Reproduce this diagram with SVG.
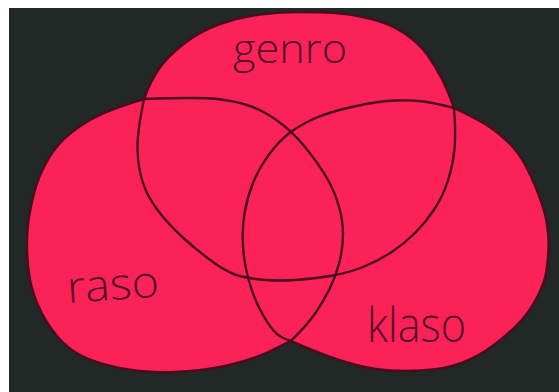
<svg xmlns="http://www.w3.org/2000/svg" xmlns:xlink="http://www.w3.org/1999/xlink" width="559" height="392" viewBox="0 0 559 392">
<style>
.paper{fill:#fa2257;stroke:none}
.ink{fill:none;stroke:#4a0c1e;stroke-width:2.4;stroke-linejoin:round;stroke-linecap:round}
.lbl{font-family:"Open Sans","Liberation Sans",sans-serif;font-weight:300;fill:#55102a}
</style>
<defs>
<path id="pT" d="M144,99 Q150,82 158.5,69.5 Q167,57 183.5,44 Q200,31 220,24 Q240,17 260,14.5 Q280,12 300,12 Q320,12 335,13 Q350,14 369.5,18.5 Q389,23 404,33 Q419,43 427.5,55 Q436,67 442.5,80 Q449,93 454,108 Q456,133 454.5,149 Q453,165 448,180.5 Q443,196 434.5,209 Q426,222 415,233 Q404,244 391,252.5 Q378,261 363,267 Q348,273 330,276 Q312,279 295.5,280 Q279,281 266,280 Q253,279 241.5,276.5 Q230,274 215,263.5 Q200,253 184,238.5 Q168,224 157.5,210 Q147,196 142.5,181.5 Q138,167 137.5,150 Q137,133 144,99 Z"/>
<path id="pL" d="M144,99 Q200,97 217.5,99 Q235,101 248.5,105.5 Q262,110 277,120.5 Q292,131 305,147 Q318,163 326,176.5 Q334,190 338.5,205 Q343,220 343,234 Q343,248 339.5,262 Q336,276 329.5,289 Q323,302 315.5,313 Q308,324 291,341 Q280,346 273.5,349.5 Q267,353 253.5,358 Q240,363 220,367 Q200,371 175,372 Q150,373 128.5,369.5 Q107,366 90,359.5 Q73,353 61.5,341 Q50,329 41.5,312.5 Q33,296 30,279.5 Q27,263 27,246 Q27,229 29,217 Q31,205 34.5,191.5 Q38,178 45.5,164 Q53,150 63,140 Q73,130 90,120 Q107,110 144,99 Z"/>
<path id="pR" d="M454,108 Q479,120 489,126.5 Q499,133 509,143 Q519,153 525.5,165.5 Q532,178 536,188 Q540,198 543,207 Q546,216 547.5,227.5 Q549,239 548.5,249.5 Q548,260 546.5,271 Q545,282 537,297.5 Q529,313 517.5,324.5 Q506,336 492.5,346 Q479,356 462.5,362.5 Q446,369 421,370.5 Q396,372 376,369 Q356,366 337.5,359.5 Q319,353 291,341 Q280,338 273.5,330.5 Q267,323 260,309.5 Q253,296 248.5,279.5 Q244,263 243,246 Q242,229 244.5,213.5 Q247,198 253,183 Q259,168 269,154.5 Q279,141 289.5,133 Q300,125 314.5,118.5 Q329,112 354,106.5 Q379,101 395.5,100.5 Q412,100 423.5,101.5 Q435,103 454,108 Z"/>
</defs>
<rect x="0" y="0" width="559" height="392" fill="#ffffff"/>
<rect x="9" y="8" width="550" height="384" fill="#222826"/>
<g id="genro">
<use xlink:href="#pT" class="paper"/>
<text class="lbl" x="233" y="63" font-size="40" textLength="114" lengthAdjust="spacingAndGlyphs">genro</text>
</g>
<g id="raso">
<use xlink:href="#pL" class="paper"/>
<text class="lbl" x="68" y="303" font-size="44" textLength="92" lengthAdjust="spacingAndGlyphs" transform="rotate(-4 68 303)">raso</text>
</g>
<g id="klaso">
<use xlink:href="#pR" class="paper"/>
<text class="lbl" x="367" y="342" font-size="48" textLength="99" lengthAdjust="spacingAndGlyphs">klaso</text>
</g>
<g id="connectors">
<use xlink:href="#pT" class="ink"/>
<use xlink:href="#pL" class="ink"/>
<use xlink:href="#pR" class="ink"/>
</g>
</svg>
